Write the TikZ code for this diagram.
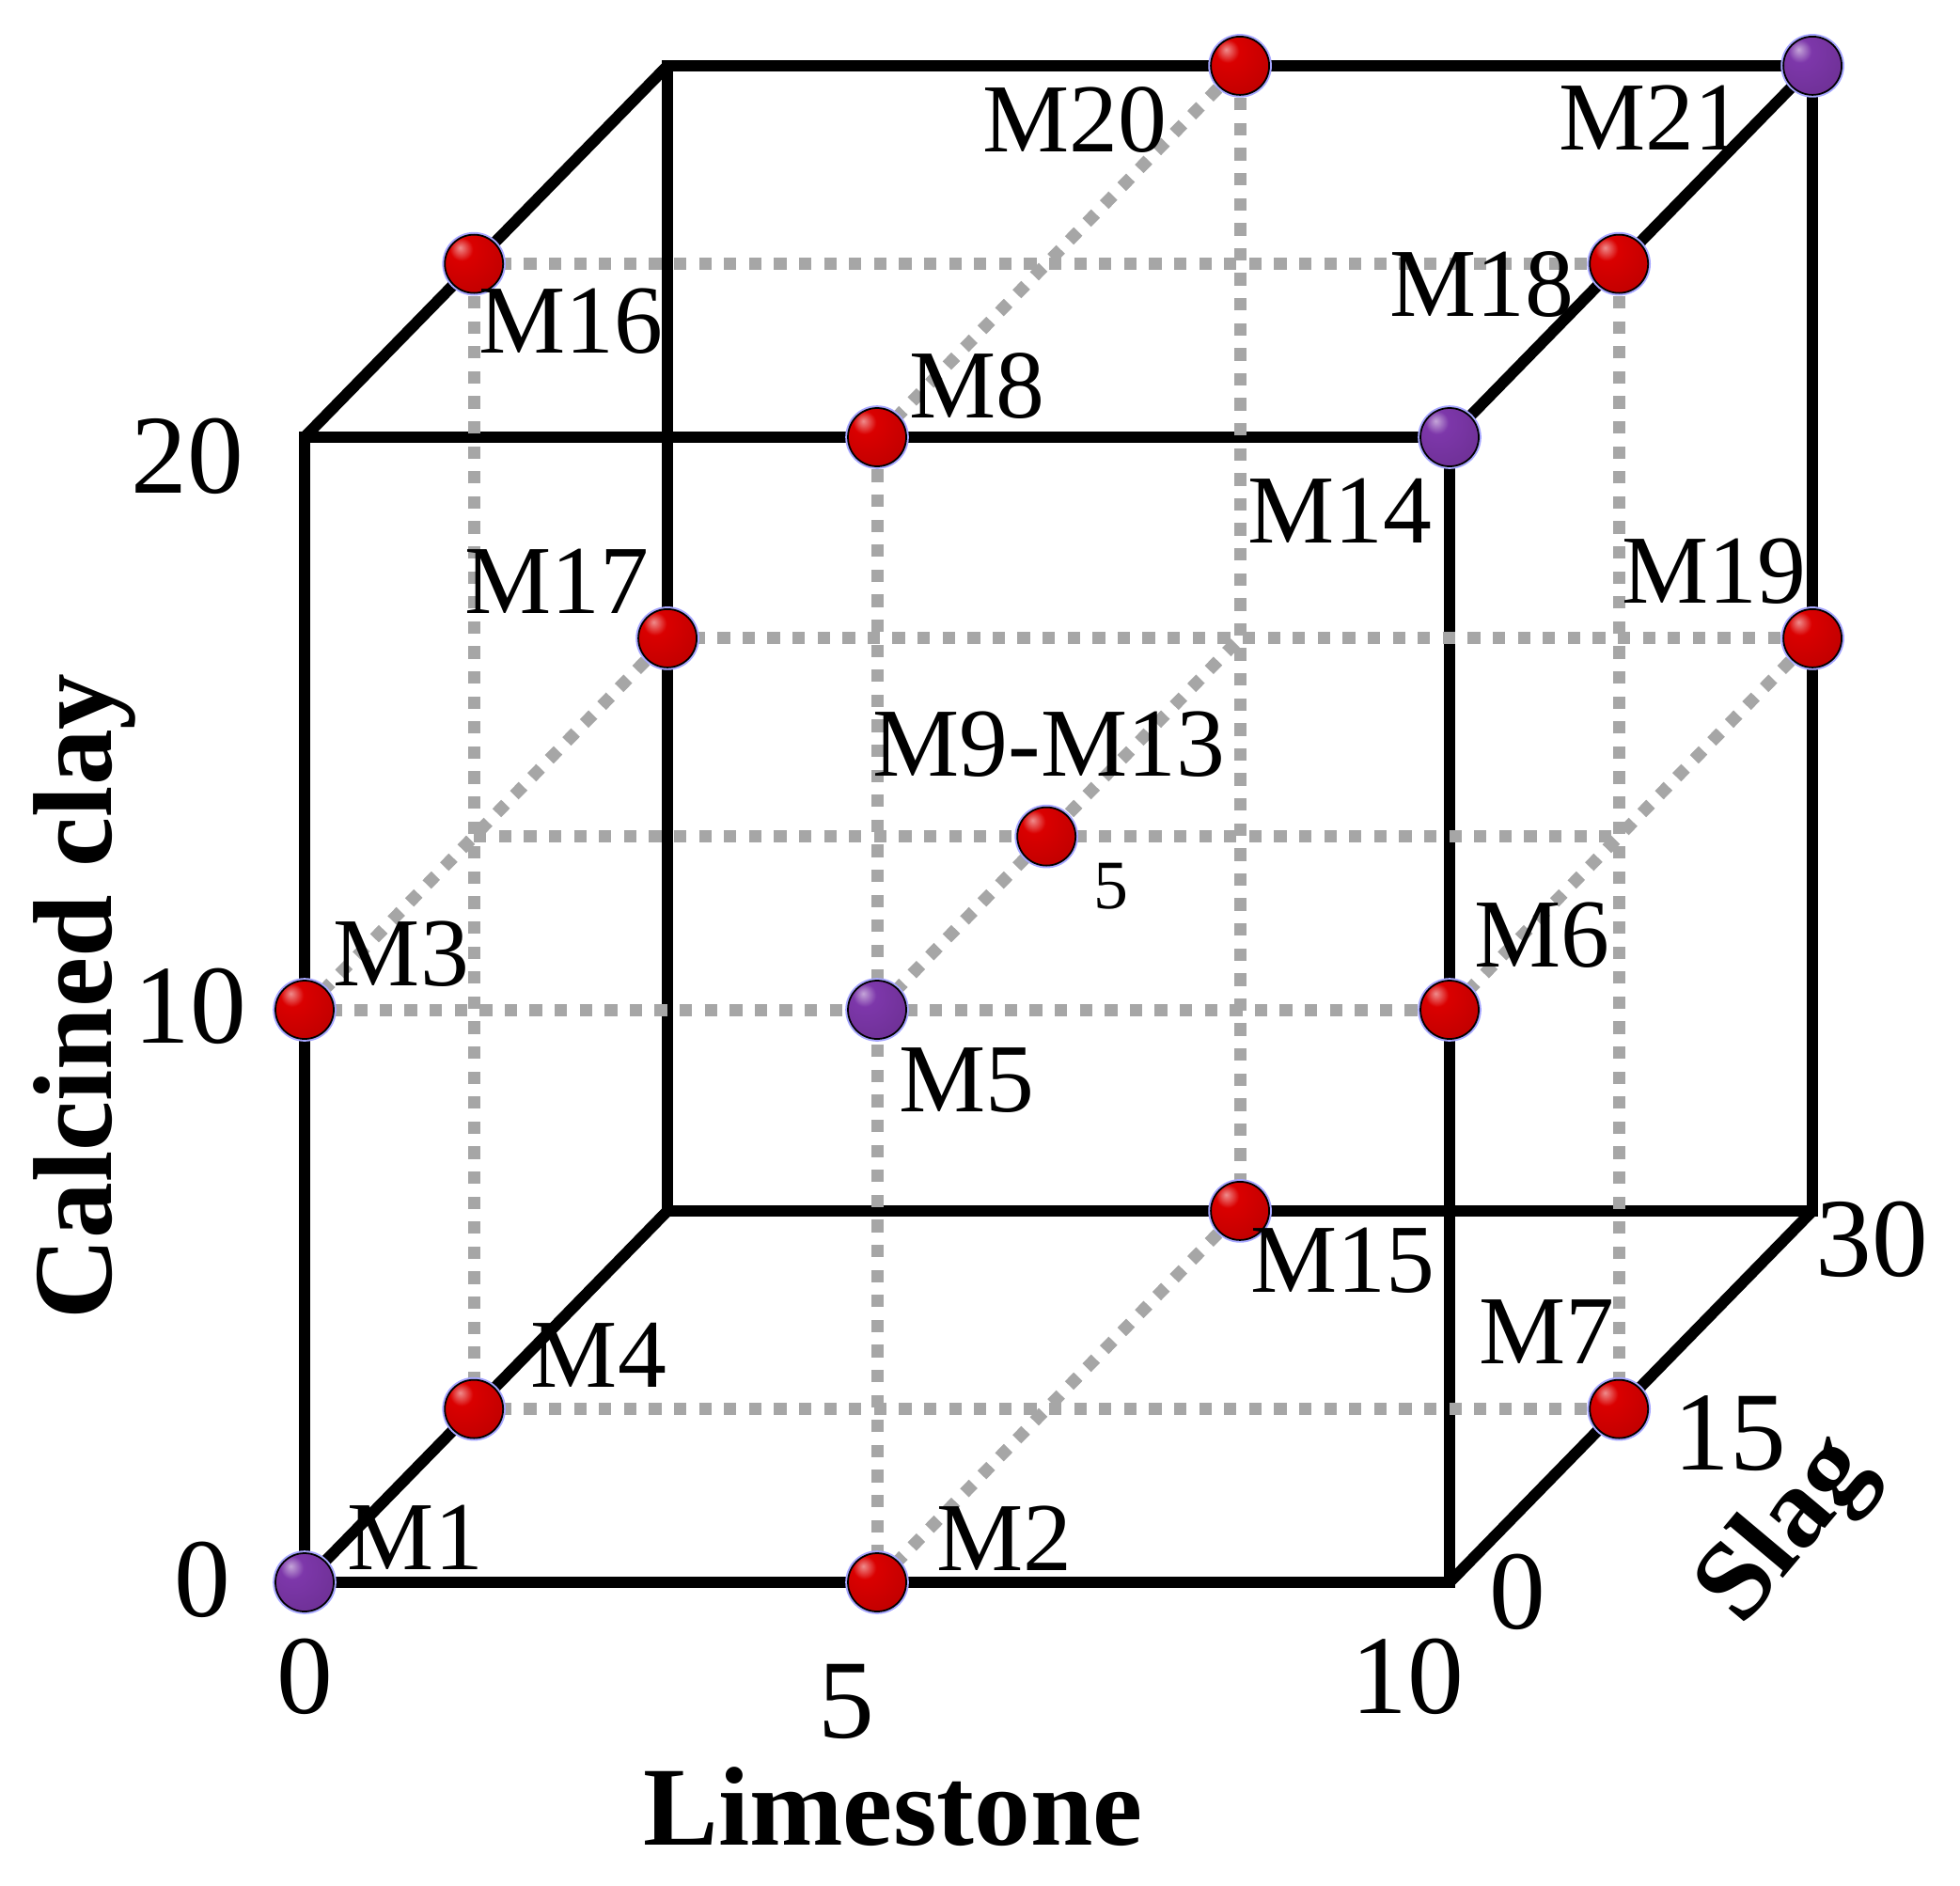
\documentclass[tikz,border=0pt]{standalone}
\usepackage{fontspec}
\setmainfont{Liberation Serif}
\definecolor{ballred}{RGB}{218,0,0}
\definecolor{ballpurple}{RGB}{125,55,170}
\definecolor{gridgray}{RGB}{166,166,166}
\pgfdeclareradialshading{redsphere}{\pgfpoint{-12bp}{14bp}}{color(0bp)=(ballred!45!white); color(10bp)=(ballred); color(45bp)=(ballred!85!black); color(62bp)=(ballred!50!black); color(100bp)=(ballred!50!black)}
\pgfdeclareradialshading{purplesphere}{\pgfpoint{-12bp}{14bp}}{color(0bp)=(ballpurple!45!white); color(10bp)=(ballpurple); color(45bp)=(ballpurple!85!black); color(62bp)=(ballpurple!50!black); color(100bp)=(ballpurple!50!black)}
\tikzset{
  edge/.style={line width=1.2mm, black},
  gridline/.style={line width=1.3mm, gridgray, dash pattern=on 1.33mm off 1.33mm},
  redball/.style={circle, minimum size=6.2mm, inner sep=0pt, draw=black, line width=0.5pt,
    shading=redsphere, preaction={draw=blue!35!white, line width=1.6pt}},
  purpleball/.style={redball, shading=purplesphere},
  lab/.style={inner sep=0pt, font=\fontsize{29.5}{31}\selectfont},
  tick/.style={inner sep=0pt, font=\fontsize{34}{36}\selectfont},
  axtitle/.style={inner sep=0pt, font=\fontsize{34}{36}\selectfont\bfseries}
}
\begin{document}
\begin{tikzpicture}
\useasboundingbox (0,0) rectangle (20.85,20.05);

\begin{scope}[shift={(3.24cm,3.22cm)}, x={(1.218cm,0cm)}, y={(0cm,0.609cm)}, z={(0.1287cm,0.1317cm)}]
% grid points (limestone, clay, slag); the middle slag layer sits a bit forward
\def\smid{14}
\foreach \l in {0,5,10}{ \foreach \c in {0,10,20}{ \foreach \s/\sn in {0/0,\smid/15,30/30}{
\coordinate (p\l-\c-\sn) at (\l,\c,\s);}}}

\draw[edge] (p0-0-0) -- (p10-0-0) -- (p10-20-0) -- (p0-20-0) -- cycle;
\draw[edge] (p0-0-30) -- (p10-0-30) -- (p10-20-30) -- (p0-20-30) -- cycle;
\foreach \l/\c in {0/0,10/0,10/20,0/20}{
\draw[edge] (p\l-\c-0) -- (p\l-\c-30);}

\foreach \c/\s in {20/15,10/30,10/15,10/0,0/15}{
\draw[gridline] (p0-\c-\s) -- (p10-\c-\s);}
\foreach \l/\s in {0/15,5/0,5/30,10/15}{
\draw[gridline] (p\l-0-\s) -- (p\l-20-\s);}
\foreach \l/\c in {0/10,5/10,10/10,5/0,5/20}{
\draw[gridline] (p\l-\c-0) -- (p\l-\c-30);}

\foreach \n/\p in {m2/p5-0-0, m3/p0-10-0, m4/p0-0-15, m6/p10-10-0, m7/p10-0-15,
  m8/p5-20-0, m9/p5-10-15, m15/p5-0-30, m16/p0-20-15, m17/p0-10-30,
  m18/p10-20-15, m19/p10-10-30, m20/p5-20-30}{
\node[redball] (\n) at (\p) {};}
\foreach \n/\p in {m1/p0-0-0, m5/p5-10-0, m14/p10-20-0, m21/p10-20-30}{
\node[purpleball] (\n) at (\p) {};}
\end{scope}

% point labels
\node[lab] (t1) at (4.42,3.70) {M1};
\node[lab] (t2) at (10.68,3.69) {M2};
\node[lab] (t3) at (4.27,9.90) {M3};
\node[lab] (t4) at (6.37,5.64) {M4};
\node[lab] (t5) at (10.28,8.56) {M5};
\node[lab] (t6) at (16.40,10.10) {M6};
\node[lab] (t7) at (16.45,5.88) {M7};
\node[lab] (t8) at (10.39,15.94) {M8};
\node[lab] (t9) at (11.16,12.13) {M9-M13};
\node[inner sep=0pt, font=\fontsize{21}{22}\selectfont] (t9n) at (11.82,10.62) {5};
\node[lab] (t14) at (14.25,14.62) {M14};
\node[lab] (t15) at (14.28,6.64) {M15};
\node[lab] (t16) at (6.07,16.63) {M16};
\node[lab] (t17) at (5.92,13.87) {M17};
\node[lab] (t18) at (15.76,17.02) {M18};
\node[lab] (t19) at (18.23,13.97) {M19};
\node[lab] (t20) at (11.43,18.77) {M20};
\node[lab] (t21) at (17.56,18.80) {M21};

% axis ticks
\node[tick] (c0) at (2.15,3.25) {0};
\node[tick] (c10) at (2.02,9.35) {10};
\node[tick] (c20) at (1.99,15.20) {20};
\node[tick] (l0) at (3.24,2.22) {0};
\node[tick] (l5) at (9.00,1.95) {5};
\node[tick] (l10) at (14.97,2.22) {10};
\node[tick] (s0) at (16.14,3.12) {0};
\node[tick] (s15) at (18.40,4.80) {15};
\node[tick] (s30) at (19.91,6.87) {30};

\node[axtitle] (limestone) at (9.50,0.83) {Limestone};
\node[axtitle, rotate=90] (clay) at (0.90,9.45) {Calcined clay};
\node[axtitle, rotate=50] (slag) at (19.02,3.76) {Slag};
\end{tikzpicture}
\end{document}
